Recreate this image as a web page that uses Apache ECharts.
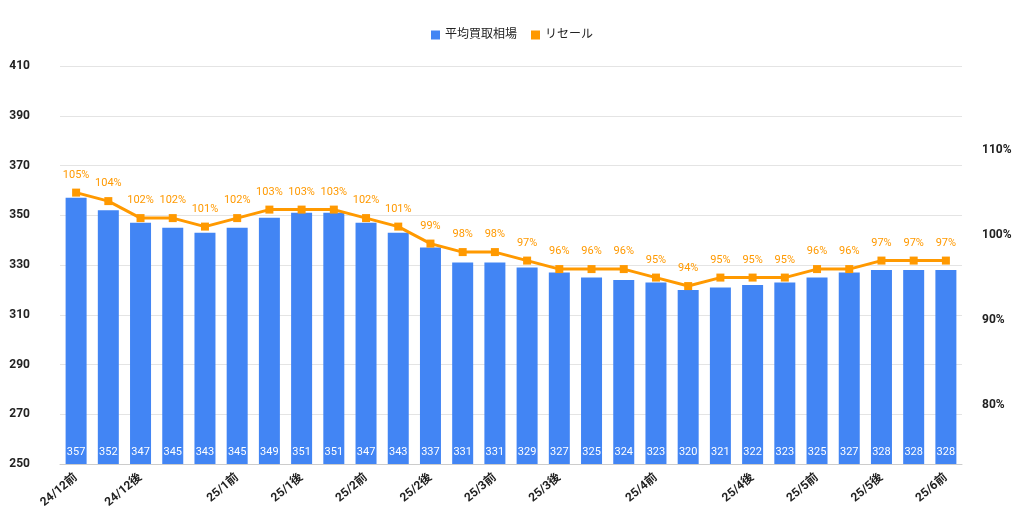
<!DOCTYPE html>
<html><head><meta charset="utf-8">
<script src="https://cdn.jsdelivr.net/npm/echarts@6/dist/echarts.min.js"></script>
<style>html,body{margin:0;background:#fff}#c{width:1024px;height:524px}</style></head>
<body><div id="c"></div>
<script>
const categories = ["24/12前","24/12前","24/12後","24/12後","24/12後","25/1前","25/1前","25/1後","25/1後","25/2前","25/2前","25/2後","25/2後","25/3前","25/3前","25/3後","25/3後","25/3後","25/4前","25/4前","25/4前","25/4後","25/4後","25/5前","25/5前","25/5後","25/5後","25/6前"];
const shownLabels = [0,2,5,7,9,11,13,15,18,21,23,25,27];
const avgPrice = [357,352,347,345,343,345,349,351,351,347,343,337,331,331,329,327,325,324,323,320,321,322,323,325,327,328,328,328];
const resale = [105,104,102,102,101,102,103,103,103,102,101,99,98,98,97,96,96,96,95,94,95,95,95,96,96,97,97,97];
const leftTicks = [250,270,290,310,330,350,370,390,410];
const rightTicks = [80,90,100,110];
const ff = 'Roboto, "Noto Sans CJK JP", sans-serif';
const chart = echarts.init(document.getElementById('c'));
chart.setOption({
  animation:false,
  textStyle:{fontFamily:ff},
  legend:{top:24,left:'center',itemWidth:9,itemHeight:9,itemGap:14,textStyle:{fontSize:12,color:'#222',fontFamily:ff},
    data:[{name:'平均買取相場',icon:'rect'},{name:'リセール',icon:'rect'}]},
  grid:{left:60,right:62,top:66,bottom:60},
  xAxis:{type:'category',data:categories,
    axisLine:{lineStyle:{color:'#ccc'}},axisTick:{show:false},
    axisLabel:{interval:(i)=>shownLabels.includes(i),rotate:40,color:'#222',fontSize:12,fontWeight:'bold',margin:12,fontFamily:ff}},
  yAxis:[
    {type:'value',min:250,max:410,interval:20,
     axisLabel:{color:'#222',fontSize:12,fontWeight:'bold',fontFamily:ff,margin:30},
     axisLine:{show:false},axisTick:{show:false},splitLine:{lineStyle:{color:'#e4e4e4'}}},
    {type:'value',min:73.06,max:119.9,
     axisLabel:{customValues:rightTicks,formatter:v=>v+'%',color:'#222',fontSize:12,fontWeight:'bold',fontFamily:ff,margin:20},
     axisTick:{show:false,customValues:rightTicks},axisLine:{show:false},splitLine:{show:false}}
  ],
  series:[
    {name:'平均買取相場',type:'bar',data:avgPrice,barWidth:21,itemStyle:{color:'#4285f4'},
     label:{show:true,position:'insideBottom',color:'#fff',fontSize:11,distance:6,fontFamily:ff}},
    {name:'リセール',type:'line',yAxisIndex:1,data:resale,symbol:'rect',symbolSize:8,
     itemStyle:{color:'#ff9900'},lineStyle:{color:'#ff9900',width:3},
     label:{show:true,position:'top',color:'#ff9900',fontSize:11,distance:8,formatter:p=>p.value+'%',fontFamily:ff}}
  ]
});
</script></body></html>
